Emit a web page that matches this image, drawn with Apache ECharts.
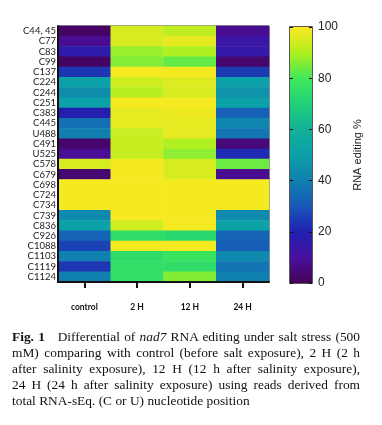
<!DOCTYPE html>
<html>
<head>
<meta charset="utf-8">
<script src="https://cdn.jsdelivr.net/npm/echarts@6/dist/echarts.min.js"></script>
<style>
html,body{margin:0;padding:0;background:#fff;}
#chart{position:absolute;left:0;top:0;width:382px;height:425px;}
#cap{position:absolute;left:12px;top:329px;width:348px;font-family:"Liberation Serif","DejaVu Serif",serif;font-size:13.4px;line-height:16px;color:#111;}
#cap div{text-align:justify;text-align-last:justify;white-space:nowrap;}
#cap div.last{text-align-last:left;}
</style>
</head>
<body>
<div id="chart"></div>
<div id="cap">
<div><b>Fig. 1</b>&nbsp;&nbsp; Differential of <i>nad7</i> RNA editing under salt stress (500</div>
<div>mM) comparing with control (before salt exposure), 2 H (2 h</div>
<div>after salinity exposure), 12 H (12 h after salinity exposure),</div>
<div>24 H (24 h after salinity exposure) using reads derived from</div>
<div class="last">total RNA-sEq. (C or U) nucleotide position</div>
</div>
<script>
var xCats = ['control', '2 H', '12 H', '24 H'];
var yCats = ['C44, 45','C77','C83','C99','C137','C224','C244','C251','C383','C445','U488','C491','U525','C578','C679','C698','C724','C734','C739','C836','C926','C1088','C1103','C1119','C1124'];
var control = [2, 8, 17, 2, 24, 50, 44, 50, 19, 36, 40, 3, 9, 95, 4, 99, 99, 99, 43, 50, 33, 26, 40, 24, 40];
var h2      = [95, 95, 88, 86, 99, 94, 91, 99, 97, 97, 93, 93, 93, 99, 99, 99, 99, 99, 99, 94, 75, 99, 75, 76, 76];
var h12     = [92, 97, 90, 83, 99, 96, 95, 99, 98, 97, 97, 90, 87, 95, 95, 99, 99, 99, 99, 99, 73, 99, 78, 75, 86];
var h24     = [8, 14, 15, 3, 25, 50, 46, 50, 32, 42, 37, 5, 22, 84, 8, 99, 99, 99, 43, 52, 33, 31, 43, 37, 40];
var barRange = [0, 100];

var cmap = ['#440154','#4a10a0','#2020b0','#1858b8','#1080b0','#0ca0a8','#12b098','#20d078','#40e858','#b0f020','#fde820'];

var cols = [control, h2, h12, h24];
var data = [];
cols.forEach(function (arr, xi) {
  arr.forEach(function (v, yi) { data.push([xi, yi, v]); });
});

var chart = echarts.init(document.getElementById('chart'), null, { renderer: 'canvas' });
chart.setOption({
  backgroundColor: '#fff',
  animation: false,
  grid: [
    { left: 58, top: 26, width: 211, height: 256, show: true, borderColor: '#333', borderWidth: 1, backgroundColor: 'transparent' },
    { left: 290, top: 27, width: 22, height: 256, show: true, borderColor: '#222', borderWidth: 1.5, backgroundColor: 'transparent' }
  ],
  xAxis: [
    { type: 'category', data: xCats, gridIndex: 0,
      axisLine: { show: true, lineStyle: { color: '#111', width: 2 } },
      axisTick: { show: true, alignWithLabel: true, length: 6, lineStyle: { color: '#111', width: 2 } },
      axisLabel: { margin: 21, fontSize: 8.5, fontWeight: 'bold', color: '#111', fontFamily: 'Lato, "Noto Sans", sans-serif' },
      splitLine: { show: false }, z: 5 },
    { type: 'category', data: ['bar'], gridIndex: 1, show: false }
  ],
  yAxis: [
    { type: 'category', data: yCats, inverse: true, gridIndex: 0,
      axisLine: { show: true, lineStyle: { color: '#111', width: 2 } },
      axisTick: { show: false },
      axisLabel: { interval: 0, margin: 2, fontSize: 9.5, color: '#222', fontFamily: 'Lato, "Noto Sans", sans-serif' },
      splitLine: { show: false }, z: 5 },
    { type: 'value', gridIndex: 1, min: 0, max: 100, interval: 20, position: 'right',
      axisLine: { show: false },
      axisTick: { show: true, inside: true, length: 3, lineStyle: { color: '#111', width: 1 } },
      axisLabel: { margin: 6, fontSize: 12, color: '#222', fontFamily: '"Liberation Sans", Arial, sans-serif', showMinLabel: true, showMaxLabel: true },
      splitLine: { show: false },
      name: 'RNA editing %', nameLocation: 'middle', nameRotate: 90, nameGap: 40,
      nameTextStyle: { fontSize: 11, color: '#222', fontFamily: '"Liberation Sans", Arial, sans-serif' }, z: 10 },
    { type: 'value', gridIndex: 1, min: 0, max: 100, interval: 20, position: 'left',
      axisLine: { show: false },
      axisTick: { show: true, inside: true, length: 3, lineStyle: { color: '#111', width: 1 } },
      axisLabel: { show: false }, splitLine: { show: false }, z: 10 }
  ],
  visualMap: { show: false, min: 0, max: 100, seriesIndex: 0, inRange: { color: cmap } },
  series: [
    { type: 'heatmap', xAxisIndex: 0, yAxisIndex: 0, data: data, itemStyle: { borderWidth: 0 }, emphasis: { disabled: true } },
    { type: 'bar', xAxisIndex: 1, yAxisIndex: 1, barWidth: '100%', silent: true, z: 1,
      data: [barRange[1]],
      itemStyle: { color: new echarts.graphic.LinearGradient(0, 1, 0, 0, cmap.map(function (c, i) { return { offset: i / (cmap.length - 1), color: c }; })) } }
  ]
});
</script>
</body>
</html>
